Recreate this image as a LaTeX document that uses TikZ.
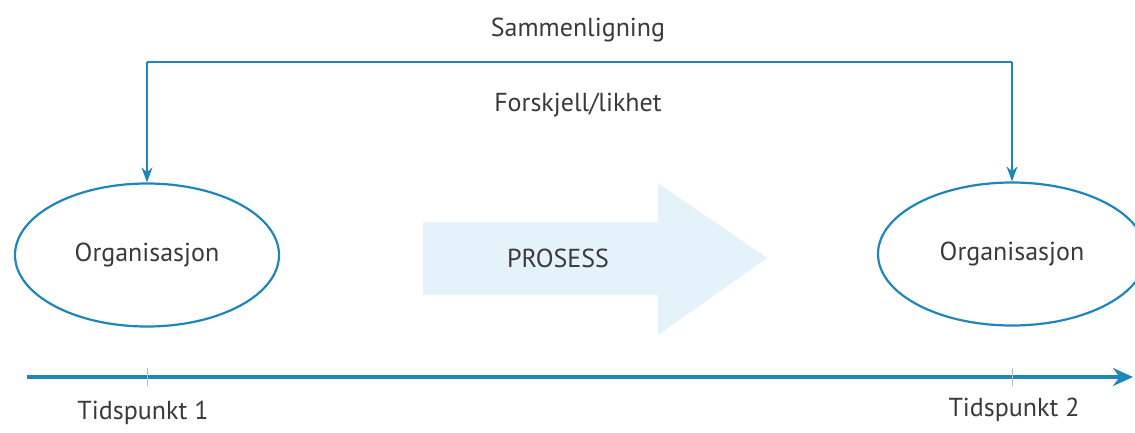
\documentclass[tikz,border=0pt]{standalone}
\usepackage{fontspec}
\setmainfont{PT Sans}
\usetikzlibrary{shapes.geometric,shapes.arrows,arrows.meta}
\definecolor{lineblue}{HTML}{1E86B8}
\definecolor{paleblue}{HTML}{E4F3FA}
\definecolor{txt}{HTML}{3A3A3A}
\definecolor{tickgray}{HTML}{B8B8B8}
\begin{document}
\begin{tikzpicture}[x=1pt,y=-1pt,
  lbl/.style={text=txt,font=\fontsize{26}{30}\selectfont,inner sep=0pt},
  org/.style={ellipse,draw=lineblue,line width=2.2pt,minimum width=264pt,minimum height=143pt,text=txt,font=\fontsize{26}{30}\selectfont},
  conn/.style={draw=lineblue,line width=1.6pt,-{Stealth[length=15pt,width=11pt]}}]
\useasboundingbox (0,0) rectangle (1135,432);
% process arrow
\fill[paleblue] (423,222) -- (658,222) -- (658,183) -- (767,258) -- (658,335) -- (658,295) -- (423,295) -- cycle;
\node[lbl] (proc) at (558,258) {PROSESS};
% ellipses
\node[org] (o1) at (147,255) {Organisasjon};
\node[org,minimum width=268pt] (o2) at (1012,254) {Organisasjon};
% comparison bracket
\coordinate (c1) at (147,62);
\coordinate (c2) at (1012,62);
\draw[draw=lineblue,line width=1.6pt] (c1) -- (c2);
\draw[conn] (c1) -- (o1.north);
\draw[conn] (c2) -- (o2.north);
\node[lbl] (samm) at (578,30) {Sammenligning};
\node[lbl] (fors) at (578,105) {Forskjell/likhet};
% timeline
\coordinate (t0) at (27,377);
\coordinate (t1) at (1133,377);
\draw[lineblue,line width=4pt,-{Stealth[length=20pt,width=18pt]}] (t0) -- (t1);
\coordinate (k1) at (147,377);
\coordinate (k2) at (1012,377);
\draw[tickgray,line width=0.6pt] ([yshift=-9pt]k1) -- ([yshift=9pt]k1);
\draw[tickgray,line width=0.6pt] ([yshift=-9pt]k2) -- ([yshift=9pt]k2);
\node[lbl] (tp1) at (143,413) {Tidspunkt 1};
\node[lbl] (tp2) at (1014,410) {Tidspunkt 2};
\end{tikzpicture}
\end{document}
